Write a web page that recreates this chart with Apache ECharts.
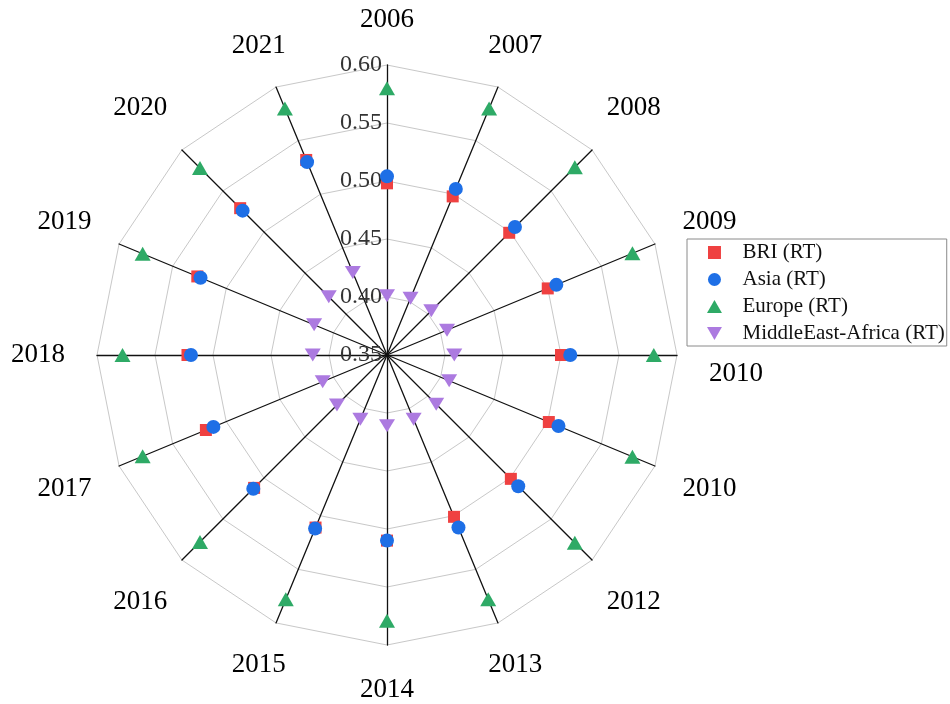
<!DOCTYPE html>
<html>
<head>
<meta charset="utf-8">
<script src="https://cdn.jsdelivr.net/npm/echarts@6/dist/echarts.min.js"></script>
<style>
html,body{margin:0;padding:0;background:#fff;}
#chart{width:950px;height:704px;}
</style>
</head>
<body>
<div id="chart"></div>
<script>
// ---- data ----
var categories = ['2006','2007','2008','2009','2010','2010','2012','2013','2014','2015','2016','2017','2018','2019','2020','2021'];
var seriesNames = ['BRI (RT)', 'Asia (RT)', 'Europe (RT)', 'MiddleEast-Africa (RT)'];
var briValues    = [0.498, 0.498, 0.499, 0.500, 0.500, 0.501, 0.501, 0.501, 0.510, 0.511, 0.512, 0.519, 0.522, 0.527, 0.529, 0.532];
var asiaValues   = [0.504, 0.505, 0.506, 0.508, 0.508, 0.510, 0.510, 0.511, 0.510, 0.512, 0.513, 0.512, 0.519, 0.524, 0.526, 0.530];
var europeValues = [0.580, 0.580, 0.579, 0.579, 0.580, 0.579, 0.579, 0.578, 0.579, 0.578, 0.578, 0.578, 0.578, 0.578, 0.578, 0.580];
var meaValues    = [0.401, 0.403, 0.404, 0.406, 0.408, 0.408, 0.410, 0.410, 0.411, 0.410, 0.411, 0.410, 0.414, 0.418, 0.421, 0.427];
var axisMin = 0.35, axisMax = 0.60, axisSplit = 5;

// ---- build ----
var SERIF = "'Liberation Serif','Times New Roman',serif";
// radar places indicators counter-clockwise; reorder so categories run clockwise
var order = [0];
for (var k = categories.length - 1; k >= 1; k--) order.push(k);
function reorder(arr) { return order.map(function (i) { return arr[i]; }); }

var indicators = order.map(function (i, j) {
  var ang = i * Math.PI * 2 / categories.length;
  var s = Math.abs(Math.sin(ang));
  return {
    name: categories[i],
    min: axisMin,
    max: axisMax,
    nameGap: s > 0.5 ? 59 : 45,
    axisLabel: { show: j === 0 },
    // the right-hand horizontal label sits a little below its spoke in the original
    nudge: i === 4
  };
});

var colors = ['#ef4141', '#1e6fe6', '#2eaa66', '#ac7ae0'];
var symbols = ['path://M0,0L10,0L10,10L0,10Z', 'circle', 'path://M5,0L10,8.7L0,8.7Z', 'path://M0,0L10,0L5,8.7Z'];
var sizes = [12, 14, [16, 14], [16, 13]];
var valueSets = [briValues, asiaValues, europeValues, meaValues];

var series = seriesNames.map(function (n, s) {
  return {
    name: n,
    type: 'radar',
    symbol: symbols[s],
    symbolSize: sizes[s],
    symbolKeepAspect: false,
    itemStyle: { color: colors[s], borderWidth: 0, opacity: 1 },
    lineStyle: { width: 0, opacity: 0 },
    emphasis: { disabled: true },
    data: [{ name: n, value: reorder(valueSets[s]) }]
  };
});

var chart = echarts.init(document.getElementById('chart'), null, { renderer: 'canvas' });
chart.setOption({
  animation: false,
  backgroundColor: '#fff',
  radar: {
    center: [387, 355],
    radius: 290,
    startAngle: 90,
    shape: 'polygon',
    splitNumber: axisSplit,
    indicator: indicators,
    axisName: {
      color: '#000',
      fontSize: 27,
      fontFamily: SERIF,
      align: 'center',
      verticalAlign: 'middle',
      formatter: function (name, ind) {
        return ind && ind.nudge ? '{low|' + name + '}' : name;
      },
      rich: {
        low: { color: '#000', fontSize: 27, fontFamily: SERIF, padding: [38, 0, 0, 0] }
      }
    },
    axisLine: { show: true, lineStyle: { color: '#111', width: 1.3 } },
    axisTick: { show: false },
    axisLabel: {
      show: false,
      color: '#333',
      fontSize: 24,
      fontFamily: SERIF,
      margin: 5,
      showMinLabel: true,
      showMaxLabel: true,
      hideOverlap: false,
      formatter: function (v) { return Number(v).toFixed(2); }
    },
    splitLine: { show: true, lineStyle: { color: '#c8c8c8', width: 1 } },
    splitArea: { show: false }
  },
  legend: {
    orient: 'vertical',
    left: 687,
    top: 239,
    padding: [3, 2, 2, 20],
    itemGap: 6,
    itemWidth: 46,
    itemHeight: 13,
    borderColor: '#8a8a8a',
    borderWidth: 1,
    selectedMode: false,
    textStyle: { fontSize: 21, fontFamily: SERIF, color: '#111' },
    data: [
      { name: seriesNames[0], icon: 'path://M0,0L10,0L10,10L0,10Z' },
      { name: seriesNames[1], icon: 'circle' },
      { name: seriesNames[2], icon: 'path://M5,0L10,8.7L0,8.7Z' },
      { name: seriesNames[3], icon: 'path://M0,0L10,0L5,8.7Z' }
    ]
  },
  series: series
});
</script>
</body>
</html>
